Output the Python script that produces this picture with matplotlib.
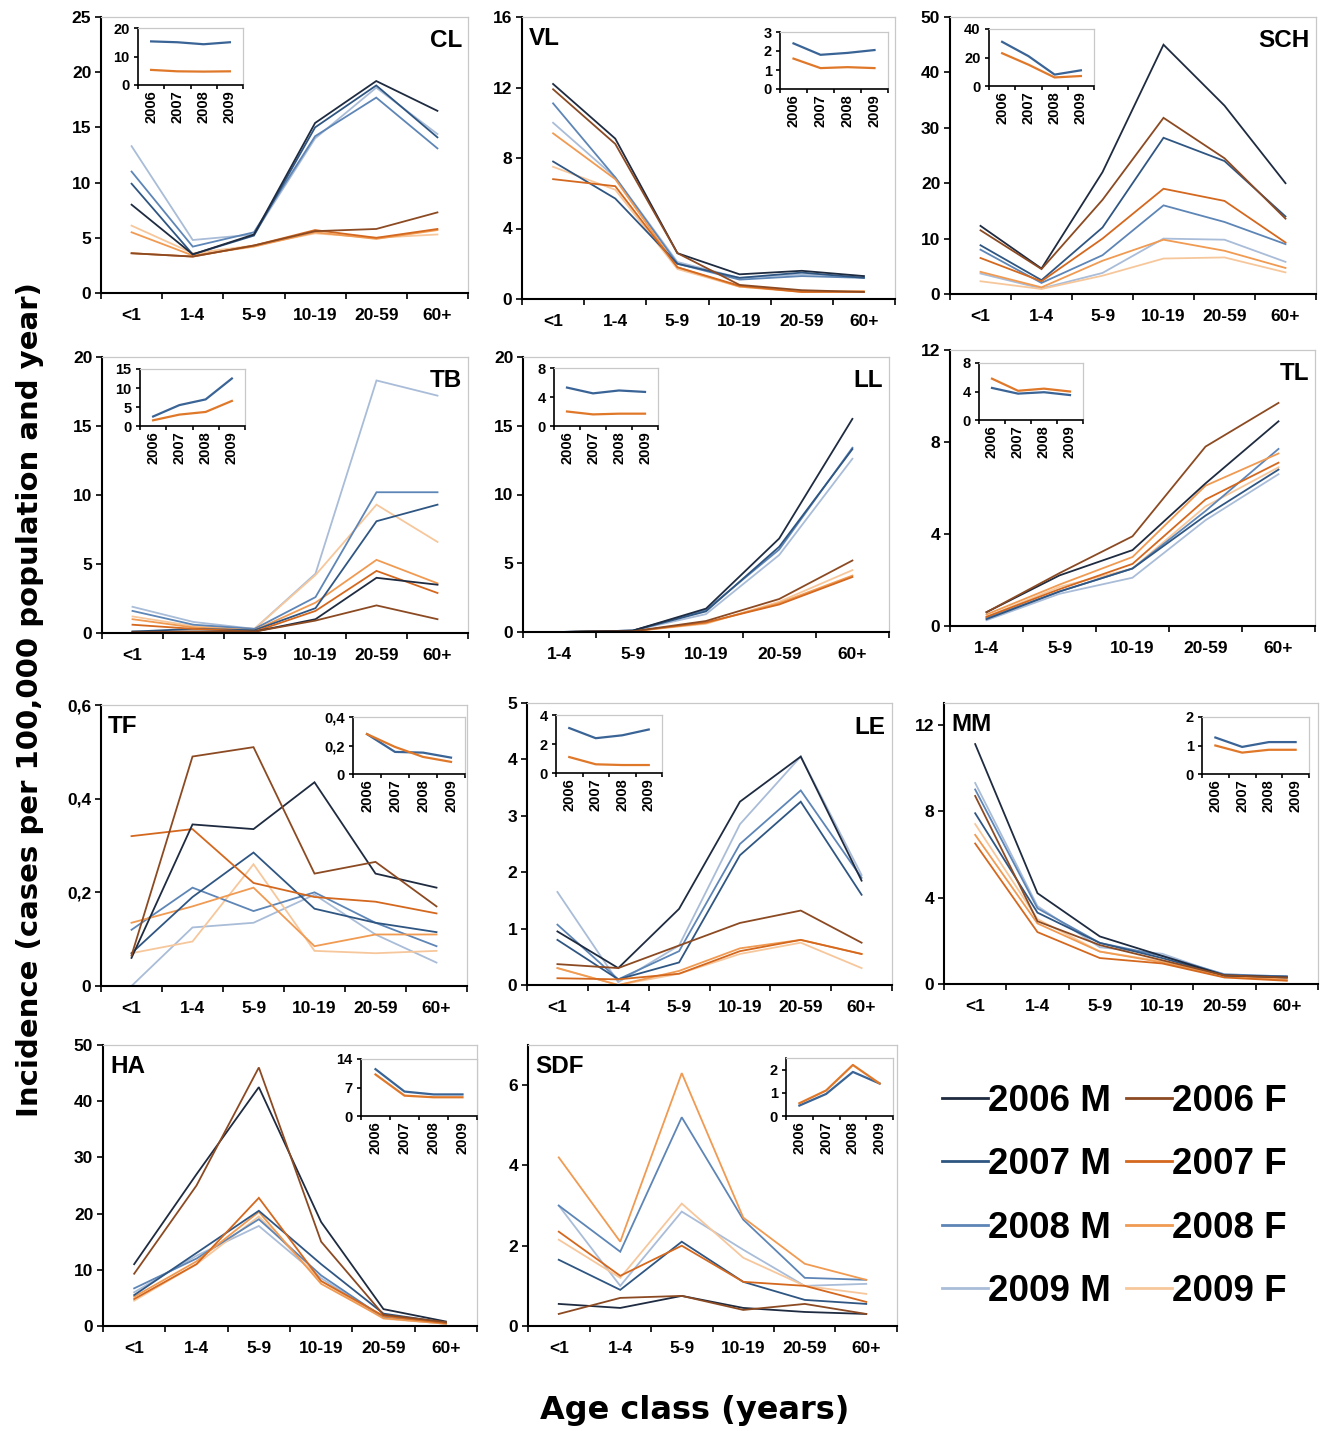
import matplotlib
matplotlib.use("Agg")
import matplotlib.pyplot as plt
from matplotlib.ticker import FuncFormatter
from matplotlib.lines import Line2D

# ---------------- data ----------------
AGES6 = ["<1", "1-4", "5-9", "10-19", "20-59", "60+"]
AGES5 = ["1-4", "5-9", "10-19", "20-59", "60+"]
YEARS = ["2006", "2007", "2008", "2009"]
SERIES = ["2006 M", "2007 M", "2008 M", "2009 M", "2006 F", "2007 F", "2008 F", "2009 F"]

# rows: 2006 M, 2007 M, 2008 M, 2009 M, 2006 F, 2007 F, 2008 F, 2009 F
CL = [[8.0, 3.5, 5.3, 15.4, 19.2, 16.5],
      [9.9, 3.5, 5.2, 15.0, 18.8, 14.1],
      [11.0, 4.2, 5.5, 14.2, 17.7, 13.1],
      [13.3, 4.8, 5.3, 14.0, 18.6, 14.4],
      [3.6, 3.3, 4.3, 5.6, 5.8, 7.3],
      [3.6, 3.3, 4.3, 5.7, 5.0, 5.8],
      [5.5, 3.4, 4.2, 5.5, 4.9, 5.7],
      [6.1, 3.6, 4.3, 5.4, 5.0, 5.3]]
CL_INSET_M = [15.3, 15.0, 14.3, 15.0]
CL_INSET_F = [5.3, 4.8, 4.7, 4.8]

VL = [[12.2, 9.1, 2.6, 1.4, 1.6, 1.3],
      [7.8, 5.7, 2.0, 1.2, 1.5, 1.2],
      [11.1, 6.9, 2.0, 1.1, 1.3, 1.2],
      [10.0, 6.9, 2.1, 1.2, 1.4, 1.3],
      [11.9, 8.8, 2.6, 0.8, 0.5, 0.4],
      [6.8, 6.4, 1.8, 0.75, 0.4, 0.4],
      [9.4, 6.8, 1.8, 0.7, 0.4, 0.45],
      [7.5, 6.2, 1.7, 0.7, 0.45, 0.4]]
VL_INSET_M = [2.4, 1.8, 1.9, 2.05]
VL_INSET_F = [1.6, 1.1, 1.15, 1.1]

SCH = [[12.3, 4.6, 22.0, 45.0, 34.0, 20.0],
       [8.8, 2.5, 12.0, 28.2, 24.0, 14.0],
       [8.0, 2.0, 7.0, 16.0, 13.0, 9.0],
       [3.7, 1.0, 3.8, 10.0, 9.8, 5.8],
       [11.5, 4.5, 17.0, 31.8, 24.5, 13.6],
       [6.5, 2.3, 10.0, 19.0, 16.8, 9.3],
       [4.0, 1.2, 6.0, 9.8, 7.8, 4.7],
       [2.3, 0.9, 3.3, 6.4, 6.6, 3.9]]
SCH_INSET_M = [31.0, 21.0, 8.0, 11.0]
SCH_INSET_F = [23.0, 15.0, 6.0, 7.0]

TB = [[0.1, 0.1, 0.1, 1.0, 4.0, 3.5],
      [0.1, 0.3, 0.2, 1.8, 8.1, 9.3],
      [1.6, 0.6, 0.3, 2.6, 10.2, 10.2],
      [1.9, 0.8, 0.3, 4.3, 18.3, 17.2],
      [0.05, 0.1, 0.1, 0.9, 2.0, 1.0],
      [0.6, 0.3, 0.1, 1.6, 4.5, 2.9],
      [1.0, 0.4, 0.2, 2.2, 5.3, 3.6],
      [1.2, 0.5, 0.3, 4.2, 9.3, 6.6]]
TB_INSET_M = [2.5, 5.5, 7.0, 12.5]
TB_INSET_F = [1.5, 3.0, 3.7, 6.6]

LL = [[0.0, 0.1, 1.7, 6.8, 15.5],
      [0.0, 0.1, 1.5, 6.2, 13.3],
      [0.0, 0.1, 1.6, 6.0, 13.4],
      [0.0, 0.1, 1.3, 5.6, 12.6],
      [0.0, 0.05, 0.8, 2.4, 5.2],
      [0.0, 0.05, 0.7, 2.0, 4.0],
      [0.0, 0.05, 0.65, 2.1, 4.1],
      [0.0, 0.05, 0.6, 2.2, 4.5]]
LL_INSET_M = [5.3, 4.5, 4.9, 4.7]
LL_INSET_F = [2.0, 1.6, 1.7, 1.7]

TL = [[0.6, 2.2, 3.3, 6.2, 8.9],
      [0.3, 1.5, 2.5, 4.8, 6.8],
      [0.35, 1.5, 2.5, 5.0, 7.7],
      [0.25, 1.4, 2.1, 4.6, 6.6],
      [0.6, 2.3, 3.9, 7.8, 9.7],
      [0.4, 1.6, 2.7, 5.5, 7.1],
      [0.5, 1.8, 3.0, 6.1, 7.5],
      [0.4, 1.7, 2.5, 5.2, 6.9]]
TL_INSET_M = [4.5, 3.7, 3.9, 3.5]
TL_INSET_F = [5.8, 4.1, 4.4, 4.0]

TF = [[0.06, 0.345, 0.335, 0.435, 0.24, 0.21],
      [0.07, 0.19, 0.285, 0.165, 0.135, 0.115],
      [0.12, 0.21, 0.16, 0.20, 0.135, 0.085],
      [0.0, 0.125, 0.135, 0.195, 0.11, 0.05],
      [0.065, 0.49, 0.51, 0.24, 0.265, 0.17],
      [0.32, 0.335, 0.22, 0.19, 0.18, 0.155],
      [0.135, 0.17, 0.21, 0.085, 0.11, 0.11],
      [0.07, 0.095, 0.26, 0.075, 0.07, 0.075]]
TF_INSET_M = [0.28, 0.155, 0.15, 0.115]
TF_INSET_F = [0.28, 0.19, 0.12, 0.085]

LE = [[0.95, 0.3, 1.35, 3.25, 4.05, 1.85],
      [0.8, 0.1, 0.4, 2.3, 3.25, 1.6],
      [1.07, 0.1, 0.6, 2.5, 3.45, 1.9],
      [1.65, 0.05, 0.7, 2.85, 4.05, 1.95],
      [0.37, 0.3, 0.7, 1.1, 1.32, 0.75],
      [0.12, 0.1, 0.2, 0.6, 0.8, 0.55],
      [0.3, 0.0, 0.25, 0.65, 0.8, 0.55],
      [0.3, 0.0, 0.2, 0.55, 0.75, 0.3]]
LE_INSET_M = [3.1, 2.4, 2.6, 3.0]
LE_INSET_F = [1.1, 0.6, 0.55, 0.55]

MM = [[11.1, 4.2, 2.2, 1.3, 0.4, 0.3],
      [7.9, 3.3, 1.9, 1.2, 0.4, 0.35],
      [9.0, 3.5, 1.9, 1.3, 0.45, 0.35],
      [9.3, 3.6, 1.7, 1.4, 0.4, 0.3],
      [8.7, 2.9, 1.8, 1.1, 0.4, 0.3],
      [6.5, 2.4, 1.2, 0.95, 0.3, 0.15],
      [6.9, 2.8, 1.5, 1.0, 0.35, 0.2],
      [7.4, 3.0, 1.5, 1.05, 0.35, 0.25]]
MM_INSET_M = [1.28, 0.95, 1.12, 1.12]
MM_INSET_F = [1.0, 0.75, 0.85, 0.85]

HA = [[11.0, 27.0, 42.5, 18.5, 3.0, 0.8],
      [5.5, 13.0, 20.5, 11.0, 2.2, 0.6],
      [6.7, 12.0, 19.0, 9.0, 1.5, 0.5],
      [6.0, 12.5, 17.8, 8.5, 1.4, 0.4],
      [9.3, 25.0, 46.0, 15.0, 2.0, 0.7],
      [4.8, 11.0, 22.8, 8.0, 1.8, 0.5],
      [5.2, 11.5, 20.3, 7.5, 1.4, 0.4],
      [4.5, 11.0, 19.5, 8.0, 1.3, 0.4]]
HA_INSET_M = [11.5, 6.0, 5.3, 5.3]
HA_INSET_F = [10.2, 5.0, 4.6, 4.6]

SDF = [[0.55, 0.45, 0.75, 0.45, 0.35, 0.3],
       [1.65, 0.9, 2.1, 1.1, 0.65, 0.55],
       [3.0, 1.85, 5.2, 2.65, 1.2, 1.15],
       [3.0, 1.0, 2.85, 1.9, 1.0, 1.05],
       [0.3, 0.7, 0.75, 0.4, 0.55, 0.3],
       [2.35, 1.25, 2.0, 1.1, 1.0, 0.6],
       [4.2, 2.1, 6.3, 2.7, 1.55, 1.15],
       [2.15, 1.2, 3.05, 1.7, 1.0, 0.8]]
SDF_INSET_M = [0.45, 0.95, 1.9, 1.4]
SDF_INSET_F = [0.55, 1.1, 2.2, 1.4]

COLORS = ["#1e2b40", "#2f5682", "#5d85b6", "#a9bcd8",
          "#8c4a22", "#d4681e", "#f09a52", "#f7c79c"]
INSET_M = "#3a6496"
INSET_F = "#e0782a"

# ---------------- layout ----------------
W, H = 1323, 1431
fig = plt.figure(figsize=(W / 100, H / 100), dpi=100)
TICKFONT = "Liberation Sans"


def rect(l, t, r, b):
    return [l / W, 1 - b / H, (r - l) / W, (b - t) / H]


def fmt(v, pos):
    return f"{v:g}".replace(".", ",")


def setup(ax, labels, ylim, yticks, fs, rot=0, xpad=9):
    n = len(labels)
    ax.set_xlim(-0.5, n - 0.5)
    ax.set_ylim(*ylim)
    ax.set_xticks([i - 0.5 for i in range(n + 1)])
    ax.set_xticklabels([])
    ax.set_xticks(range(n), minor=True)
    ax.set_xticklabels(labels, minor=True, rotation=rot, fontsize=fs,
                       fontweight="bold", family=TICKFONT)
    ax.tick_params(axis="x", which="major", direction="out", length=4, width=1.2)
    ax.tick_params(axis="x", which="minor", length=0, pad=xpad)
    ax.set_yticks(yticks)
    ax.yaxis.set_major_formatter(FuncFormatter(fmt))
    ax.tick_params(axis="y", direction="out", length=4, width=1.2, pad=3)
    for lab in ax.get_yticklabels():
        lab.set_fontsize(fs)
        lab.set_fontweight("bold")
        lab.set_family(TICKFONT)
    for s in ("left", "bottom"):
        ax.spines[s].set_color("black")
        ax.spines[s].set_linewidth(1.5)
    for s in ("top", "right"):
        ax.spines[s].set_color("#c8c8c8")
        ax.spines[s].set_linewidth(0.9)
    ax.set_facecolor("white")


panels = [
    # name, data, ages, main rect, ylim, yticks, inset M, inset F, inset rect, inset ylim, inset ticks, title side
    ("CL", CL, AGES6, (101, 17, 468, 293), (0, 25), [0, 5, 10, 15, 20, 25],
     CL_INSET_M, CL_INSET_F, (138, 28, 243, 85), (0, 20), [0, 10, 20], "right"),
    ("VL", VL, AGES6, (522, 17, 895, 299), (0, 16), [0, 4, 8, 12, 16],
     VL_INSET_M, VL_INSET_F, (780, 32, 888, 89), (0, 3), [0, 1, 2, 3], "left"),
    ("SCH", SCH, AGES6, (950, 17, 1316, 294), (0, 50), [0, 10, 20, 30, 40, 50],
     SCH_INSET_M, SCH_INSET_F, (989, 29, 1094, 86), (0, 40), [0, 20, 40], "right"),
    ("TB", TB, AGES6, (102, 357, 468, 633), (0, 20), [0, 5, 10, 15, 20],
     TB_INSET_M, TB_INSET_F, (140, 369, 245, 426), (0, 15), [0, 5, 10, 15], "right"),
    ("LL", LL, AGES5, (523, 357, 889, 632), (0, 20), [0, 5, 10, 15, 20],
     LL_INSET_M, LL_INSET_F, (554, 368, 658, 426), (0, 8), [0, 4, 8], "right"),
    ("TL", TL, AGES5, (950, 350, 1315, 626), (0, 12), [0, 4, 8, 12],
     TL_INSET_M, TL_INSET_F, (979, 363, 1083, 420), (0, 8), [0, 4, 8], "right"),
    ("TF", TF, AGES6, (101, 705, 467, 986), (0, 0.6), [0, 0.2, 0.4, 0.6],
     TF_INSET_M, TF_INSET_F, (353, 717, 465, 774), (0, 0.4), [0, 0.2, 0.4], "left"),
    ("LE", LE, AGES6, (527, 703, 892, 985), (0, 5), [0, 1, 2, 3, 4, 5],
     LE_INSET_M, LE_INSET_F, (556, 715, 662, 773), (0, 4), [0, 2, 4], "right"),
    ("MM", MM, AGES6, (944, 703, 1318, 984), (0, 13), [0, 4, 8, 12],
     MM_INSET_M, MM_INSET_F, (1202, 717, 1309, 774), (0, 2), [0, 1, 2], "left"),
    ("HA", HA, AGES6, (103, 1045, 477, 1326), (0, 50), [0, 10, 20, 30, 40, 50],
     HA_INSET_M, HA_INSET_F, (361, 1059, 477, 1116), (0, 14), [0, 7, 14], "left"),
    ("SDF", SDF, AGES6, (528, 1045, 897, 1326), (0, 7), [0, 2, 4, 6],
     SDF_INSET_M, SDF_INSET_F, (786, 1058, 893, 1116), (0, 2.5), [0, 1, 2], "left"),
]

for name, data, ages, r, ylim, yt, im, iff, ir, iyl, iyt, side in panels:
    ax = fig.add_axes(rect(*r))
    setup(ax, ages, ylim, yt, 12.5, xpad=11)
    x = list(range(len(ages)))
    # draw light series first so dark ones sit on top
    for i in [3, 7, 2, 6, 1, 5, 0, 4]:
        ax.plot(x, data[i], color=COLORS[i], lw=1.3, solid_joinstyle="miter")
    if side == "right":
        ax.text(0.983, 0.955, name, transform=ax.transAxes, ha="right", va="top",
                fontsize=17.5, fontweight="bold", family=TICKFONT)
    else:
        ax.text(0.019, 0.965, name, transform=ax.transAxes, ha="left", va="top",
                fontsize=17.5, fontweight="bold", family=TICKFONT)

    ia = fig.add_axes(rect(*ir))
    setup(ia, YEARS, iyl, iyt, 10.5, rot=90, xpad=4)
    ia.tick_params(axis="both", which="major", length=3)
    ia.spines["left"].set_linewidth(1.2)
    ia.spines["bottom"].set_linewidth(1.2)
    xi = list(range(len(YEARS)))
    ia.plot(xi, im, color=INSET_M, lw=1.6)
    ia.plot(xi, iff, color=INSET_F, lw=1.6)

# legend
handles = [Line2D([], [], color=c, lw=2.0) for c in COLORS]
fig.legend(handles, SERIES, ncol=2, loc="upper left",
           bbox_to_anchor=(942 / W, 1 - 1084 / H), frameon=False,
           prop=dict(family=TICKFONT, weight="bold", size=26.5),
           handlelength=1.25, handletextpad=0.0, columnspacing=0.4,
           labelspacing=0.77, borderaxespad=0, borderpad=0)

fig.text(30 / W, 1 - 700 / H, "Incidence (cases per 100,000 population and year)",
         rotation=90, ha="center", va="center", fontsize=21, fontweight="bold",
         family="DejaVu Sans")
fig.text(695 / W, 1 - 1410 / H, "Age class (years)", ha="center", va="center",
         fontsize=23, fontweight="bold", family="DejaVu Sans")

fig.savefig("out.png", dpi=100, facecolor="white")
